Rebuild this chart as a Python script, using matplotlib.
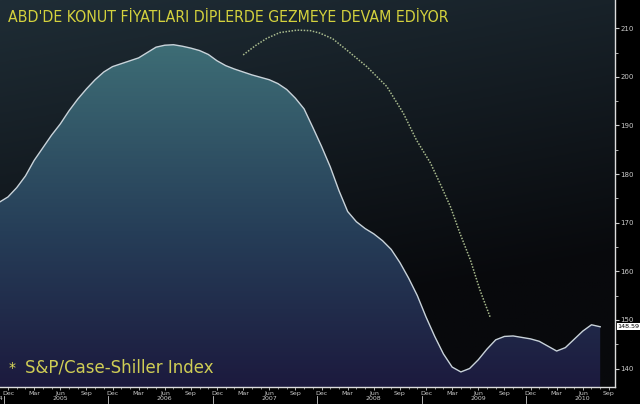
import numpy as np
import matplotlib
matplotlib.use("Agg")
import matplotlib.pyplot as plt
from matplotlib import font_manager
from matplotlib.font_manager import FontProperties
from matplotlib.transforms import blended_transform_factory

# S&P/Case-Shiller 20-city index, monthly, Nov 2004 .. Aug 2010
month_idx = list(range(-1, 69))  # 0 = Dec 2004
index_vals = [
    174.2, 175.3, 177.2, 179.6, 182.8, 185.4, 188.0, 190.3, 193.0, 195.4,
    197.5, 199.4, 201.0, 202.1, 202.7, 203.3, 203.9, 205.0, 206.1, 206.5,
    206.6, 206.3, 205.9, 205.4, 204.6, 203.3, 202.3, 201.6, 201.0, 200.4,
    199.9, 199.4, 198.6, 197.4, 195.6, 193.4, 189.6, 185.7, 181.5, 176.6,
    172.3, 170.2, 168.8, 167.7, 166.3, 164.5, 161.8, 158.6, 155.0, 150.6,
    146.6, 143.0, 140.3, 139.3, 140.0, 141.8, 144.0, 145.9, 146.6, 146.7,
    146.4, 146.1, 145.6, 144.6, 143.6, 144.3, 146.0, 147.7, 149.0, 148.59,
]

# hand drawn dotted arc (month index, index level)
arc_m = [27.0, 28.4, 29.7, 31.2, 33.2, 34.7, 35.8, 37.3, 38.9, 41.2,
         43.5, 45.4, 46.9, 48.5, 49.6, 50.8, 51.9, 53.1, 54.2, 55.4]
arc_v = [204.5, 206.4, 207.9, 209.1, 209.6, 209.5, 209.0, 207.8, 205.5, 202.1,
         198.0, 192.5, 187.0, 182.3, 178.1, 173.3, 167.8, 162.3, 156.1, 150.4]

# axis labelling
tick_months = list(range(0, 70, 3))
tick_names = ["Dec", "Mar", "Jun", "Sep"] * 6
year_pos = [6, 18, 30, 42, 54, 66]
year_names = ["2005", "2006", "2007", "2008", "2009", "2010"]
y_ticks = [140, 150, 160, 170, 180, 190, 200, 210]

title = "ABD'DE KONUT FİYATLARI DİPLERDE GEZMEYE DEVAM EDİYOR"
legend_txt = "S&P/Case-Shiller Index"


def title_font():
    # narrowest available sans for the condensed Bloomberg-style title
    fp = FontProperties(family="DejaVu Sans", stretch="condensed")
    if "Condensed" in font_manager.findfont(fp):
        return fp
    try:
        font_manager.findfont("Liberation Sans Narrow", fallback_to_default=False)
        return FontProperties(family="Liberation Sans Narrow")
    except Exception:
        pass
    return FontProperties(family="Roboto")


fig = plt.figure(figsize=(6.4, 4.04), dpi=100, facecolor="black")
ax = fig.add_axes([0, 17 / 404, 615 / 640, 387 / 404])
ax.set_facecolor("black")

xlo, xhi = -0.92, 69.7
ylo, yhi = 136.2, 215.8

# background gradient (row 0 = top)
ny, nx = 200, 200
gy = np.linspace(0, 1, ny)[:, None]
gx = np.linspace(0, 1, nx)[None, :]
top = np.array([0x1f, 0x2d, 0x36]) / 255
bot = np.array([0x08, 0x09, 0x0c]) / 255
t = np.clip(gy * 1.05 + gx * 0.3, 0, 1)
bg = top[None, None, :] * (1 - t[..., None]) + bot[None, None, :] * t[..., None]
ax.imshow(bg, extent=[xlo, xhi, ylo, yhi], aspect="auto", zorder=0, origin="upper")

# gradient fill under the curve
c_hi = np.array([0x3e, 0x6e, 0x76]) / 255
c_mid = np.array([0x26, 0x3e, 0x58]) / 255
c_lo = np.array([0x1c, 0x1a, 0x3e]) / 255
fy = np.linspace(0, 1, 300)[:, None]  # 0 top -> 1 bottom
a = np.clip(fy / 0.55, 0, 1)
b = np.clip((fy - 0.55) / 0.45, 0, 1)
col = np.where(fy < 0.55,
               c_hi[None, :] * (1 - a) + c_mid[None, :] * a,
               c_mid[None, :] * (1 - b) + c_lo[None, :] * b)
fill_img = np.repeat(col[:, None, :], 10, axis=1)
poly = ax.fill_between(month_idx, index_vals, ylo, facecolor="none", edgecolor="none", zorder=1)
im = ax.imshow(fill_img, extent=[xlo, xhi, ylo, 207.5], aspect="auto", zorder=1, origin="upper")
im.set_clip_path(poly.get_paths()[0], transform=ax.transData)
ax.set_ylim(ylo, yhi)
ax.set_xlim(xlo, xhi)

ax.plot(month_idx, index_vals, color="#c9d3da", lw=1.0, zorder=3)

# dotted arc
ax.plot(arc_m, arc_v, color="#a9bb8e", lw=1.1, linestyle=(0, (1, 1)), zorder=3)

# title: fit its width to ~440 px like the original
fp = title_font()
ttl = ax.text(8 / 615, 1 - 17 / 387, title, transform=ax.transAxes, fontproperties=fp,
              fontsize=12, color="#d3d13d", va="center", ha="left", zorder=5)
r = fig.canvas.get_renderer()
w = ttl.get_window_extent(renderer=r).width
ttl.set_fontsize(min(12 * 440 / w, 14.5))

ax.text(12 / 615, 1 - 368 / 387, "*", transform=ax.transAxes, fontsize=10,
        color="#e1e05a", va="center", ha="center", zorder=5)
ax.text(25 / 615, 1 - 368 / 387, legend_txt, transform=ax.transAxes, fontsize=12,
        family="DejaVu Sans", color="#cfcd55", va="center", ha="left", zorder=5)

# axes styling
for s in ["top", "left"]:
    ax.spines[s].set_visible(False)
ax.spines["right"].set_color("#dddddd")
ax.spines["bottom"].set_color("#dddddd")
ax.spines["right"].set_linewidth(1.0)
ax.spines["bottom"].set_linewidth(1.0)

ax.yaxis.tick_right()
ax.set_yticks(y_ticks)
ax.set_yticklabels([str(v) for v in y_ticks])
ax.set_yticks(np.arange(145, 215, 10), minor=True)
ax.tick_params(axis="y", which="major", colors="#cccccc", labelsize=5, length=3,
               width=0.8, pad=1, direction="out")
ax.tick_params(axis="y", which="minor", colors="#cccccc", length=2, width=0.6)

ax.set_xticks(tick_months)
ax.set_xticklabels(tick_names)
ax.set_xticks(range(0, 70), minor=True)
ax.tick_params(axis="x", which="major", colors="#cccccc", labelsize=4.5, length=2,
               width=0.6, pad=1, direction="out")
ax.tick_params(axis="x", which="minor", colors="#cccccc", length=1.5, width=0.5)

tr = blended_transform_factory(ax.transData, ax.transAxes)
for p, yname in zip(year_pos, year_names):
    ax.text(p, -12 / 387, yname, transform=tr, fontsize=4.5, color="#cccccc",
            ha="center", va="center", clip_on=False)
ax.text(-0.55, -12 / 387, "2004", transform=tr, fontsize=4.5, color="#cccccc",
        ha="right", va="center", clip_on=False)
for p in [-0.5, 11.5, 23.5, 35.5, 47.5, 59.5]:
    ax.plot([p, p], [-9 / 387, -16 / 387], transform=tr, color="#cccccc", lw=0.6,
            clip_on=False)

# last value tag
last = index_vals[-1]
ax.text(1.004, last, f"{last:.2f}", transform=blended_transform_factory(ax.transAxes, ax.transData),
        fontsize=4.6, color="black", ha="left", va="center", clip_on=False,
        bbox=dict(boxstyle="square,pad=0.12", fc="white", ec="none"), zorder=6)

fig.savefig("out.png", dpi=100, facecolor="black")
